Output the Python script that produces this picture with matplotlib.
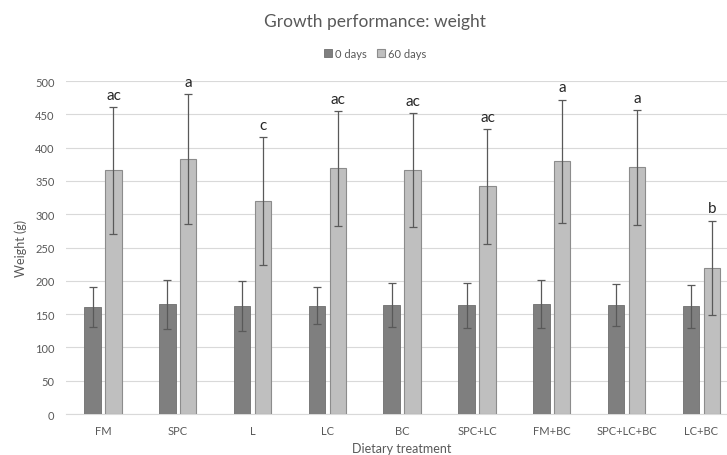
import numpy as np
import matplotlib.pyplot as plt

plt.rcParams["font.family"] = ["Lato", "DejaVu Sans"]

# Datos
treatments = ["FM", "SPC", "L", "LC", "BC", "SPC+LC", "FM+BC", "SPC+LC+BC", "LC+BC"]
day0_mean = [161, 165, 162.5, 162.5, 164, 163.5, 165, 163.5, 161.5]
day0_err = [30, 37, 38, 28, 33, 34, 36, 32, 33]
day60_mean = [366, 383, 319.5, 369, 366.5, 342, 379.5, 370.5, 219.5]
day60_err = [95, 97.5, 96, 86, 85, 86, 92.5, 86, 71]
letters = ["ac", "a", "c", "ac", "ac", "ac", "a", "a", "b"]

grey_txt = "#595959"

fig = plt.figure(figsize=(7.27, 4.56), dpi=100)
ax = fig.add_axes([0.0902, 0.0899, 0.926, 0.730])

x = np.arange(len(treatments))
w = 0.22
off = 0.14

ax.bar(x - off, day0_mean, w, color="#7f7f7f", edgecolor="#6e6e6e",
       linewidth=0.6, label="0 days", zorder=3)
ax.bar(x + off, day60_mean, w, color="#bfbfbf", edgecolor="#8c8c8c",
       linewidth=0.8, label="60 days", zorder=3)

ax.errorbar(x - off, day0_mean, yerr=day0_err, fmt="none", ecolor=grey_txt,
            elinewidth=0.9, capsize=3, capthick=0.9, zorder=4)
ax.errorbar(x + off, day60_mean, yerr=day60_err, fmt="none", ecolor=grey_txt,
            elinewidth=0.9, capsize=3, capthick=0.9, zorder=4)

# Letras de significancia encima de las barras de 60 días
for xi, m, e, lt in zip(x, day60_mean, day60_err, letters):
    ax.annotate(lt, (xi + off, m + e), xytext=(0, 4), textcoords="offset points",
                ha="center", va="bottom", fontsize=11, color="#262626")

ax.set_xlim(-0.5, len(treatments) - 0.5)
ax.set_ylim(0, 500)
ax.set_yticks(np.arange(0, 501, 50))
ax.set_xticks(x)
ax.set_xticklabels(treatments)
ax.tick_params(axis="both", length=0, labelsize=8, labelcolor=grey_txt, pad=8)
ax.yaxis.grid(True, color="#d9d9d9", linewidth=0.8, zorder=0)
ax.set_axisbelow(True)
for s in ["top", "right", "left"]:
    ax.spines[s].set_visible(False)
ax.spines["bottom"].set_color("#d9d9d9")

ax.set_ylabel("Weight (g)", fontsize=9, color=grey_txt, labelpad=6)
ax.set_xlabel("Dietary treatment", fontsize=9, color=grey_txt, labelpad=4)

fig.text(0.516, 0.952, "Growth performance: weight", ha="center", va="center",
         fontsize=12.5, color=grey_txt)
fig.legend(loc="center", bbox_to_anchor=(0.516, 0.88), ncol=2, frameon=False,
           fontsize=8, handlelength=0.7, handleheight=0.7, handletextpad=0.3,
           columnspacing=0.9, labelcolor=grey_txt)

fig.savefig("out.png", dpi=100)
